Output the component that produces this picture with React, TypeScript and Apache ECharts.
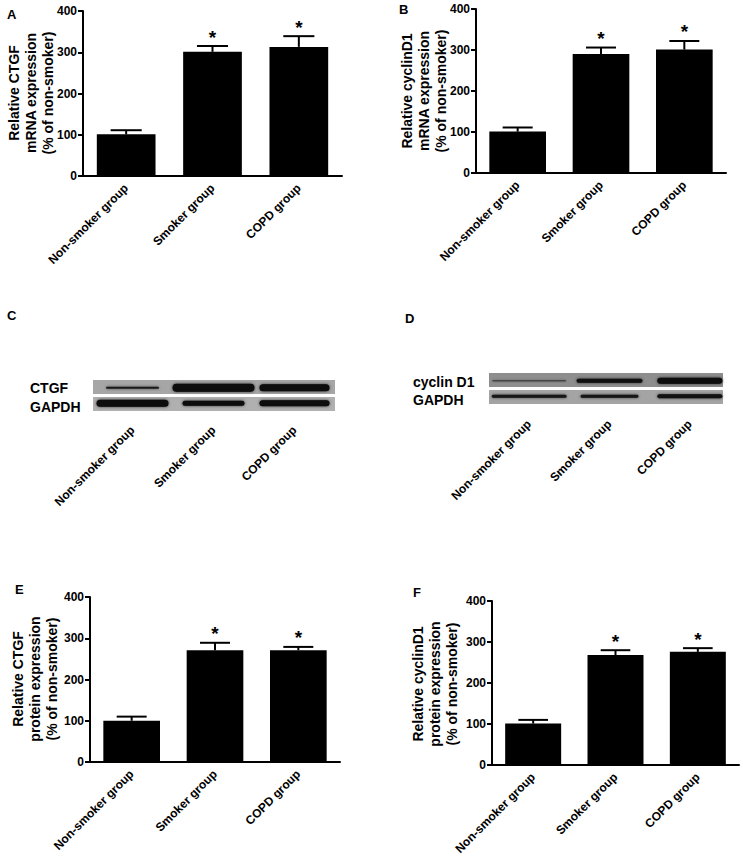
import React, { useEffect, useRef } from "react";
import * as echarts from "echarts";

const FONT = "Liberation Sans";

// Categories
const CATS = ["Non-smoker group", "Smoker group", "COPD group"];
const SIG = ["", "*", "*"];

// Panel A: CTGF mRNA
const A_MEAN = [101, 301, 313];
const A_ERR = [10, 14, 26];
// Panel B: cyclinD1 mRNA
const B_MEAN = [101, 290, 301];
const B_ERR = [10, 16, 21];
// Panel E: CTGF protein
const E_MEAN = [100, 271, 271];
const E_ERR = [10, 18, 8];
// Panel F: cyclinD1 protein
const F_MEAN = [101, 268, 276];
const F_ERR = [9, 12, 9];

const Y_MIN = 0;
const Y_MAX = 400;
const Y_STEP = 100;

// Western blot bands (thickness, length, darkness) per lane
const C_CTGF_THICK = [2, 8, 7];
const C_CTGF_LEN = [53, 82, 70];
const C_CTGF_DARK = [0.8, 1, 1];
const C_GAPDH_THICK = [7, 5, 6];
const C_GAPDH_LEN = [72, 62, 70];
const C_GAPDH_DARK = [1, 1, 1];

const D_CYC_THICK = [1.5, 4, 6];
const D_CYC_LEN = [74, 66, 65];
const D_CYC_DARK = [0.45, 0.95, 1];
const D_GAPDH_THICK = [3, 3, 4];
const D_GAPDH_LEN = [75, 58, 65];
const D_GAPDH_DARK = [0.9, 0.9, 0.95];

function errRender(params: any, api: any) {
  const i = api.value(0);
  const m = api.value(1);
  const e = api.value(2);
  const top = api.coord([i, m + e]);
  const base = api.coord([i, m]);
  const band = api.size([1, 0])[0];
  const cw = band * 0.36;
  const children: any[] = [
    { type: "line", shape: { x1: top[0], y1: base[1], x2: top[0], y2: top[1] }, style: { stroke: "#000", lineWidth: 2 } },
    { type: "line", shape: { x1: top[0] - cw / 2, y1: top[1], x2: top[0] + cw / 2, y2: top[1] }, style: { stroke: "#000", lineWidth: 2 } },
  ];
  const s = SIG[params.dataIndex];
  if (s) {
    children.push({
      type: "text",
      x: top[0],
      y: top[1] - 9,
      style: { text: s, fill: "#000", fontFamily: FONT, fontWeight: "bold", fontSize: 19, align: "center", verticalAlign: "middle" },
    });
  }
  return { type: "group", children };
}

function bandRender(params: any, api: any) {
  const p = api.coord([api.value(0), api.value(1)]);
  const th = api.value(2);
  const len = api.value(3);
  const dark = api.value(4);
  return {
    type: "rect",
    shape: { x: p[0] - len / 2, y: p[1] - th / 2, width: len, height: th, r: th / 2 },
    style: { fill: `rgba(8,8,8,${dark})`, shadowBlur: 3, shadowColor: "rgba(0,0,0,0.7)" },
  };
}

function bandData(row: number, thick: number[], len: number[], dark: number[]) {
  return thick.map((t, i) => [i, row, t, len[i], dark[i]]);
}

const axisLabelStyle = { color: "#000", fontWeight: "bold" as const, fontSize: 12, fontFamily: FONT };

function chartX(gi: number) {
  return {
    type: "category",
    gridIndex: gi,
    data: CATS,
    axisLine: { lineStyle: { color: "#000", width: 2 } },
    axisTick: { alignWithLabel: true, length: 6, lineStyle: { color: "#000", width: 2 } },
    axisLabel: { ...axisLabelStyle, rotate: 45, interval: 0, margin: 10 },
  };
}
function chartY(gi: number) {
  return {
    type: "value",
    gridIndex: gi,
    min: Y_MIN,
    max: Y_MAX,
    interval: Y_STEP,
    splitLine: { show: false },
    axisLine: { show: true, lineStyle: { color: "#000", width: 2 } },
    axisTick: { show: true, length: 5, lineStyle: { color: "#000", width: 2 } },
    axisLabel: { ...axisLabelStyle, margin: 6 },
  };
}
function blotX(gi: number, margin: number) {
  return {
    type: "category",
    gridIndex: gi,
    data: CATS,
    axisLine: { show: false },
    axisTick: { show: false },
    axisLabel: { ...axisLabelStyle, rotate: 45, interval: 0, margin },
  };
}
function blotY(gi: number) {
  return { type: "value", gridIndex: gi, min: 0, max: 2, show: false, splitLine: { show: false } };
}

function barSeries(gi: number, mean: number[], err: number[]) {
  return [
    { type: "bar", xAxisIndex: gi, yAxisIndex: gi, data: mean, barWidth: "68%", itemStyle: { color: "#000" } },
    {
      type: "custom",
      xAxisIndex: gi,
      yAxisIndex: gi,
      data: mean.map((m, i) => [i, m, err[i]]),
      renderItem: errRender,
      z: 5,
    },
  ];
}

function txtStyle(text: string, size: number, align: string) {
  return { text, fill: "#000", fontFamily: FONT, fontWeight: "bold", fontSize: size, align, verticalAlign: "middle" };
}
function titleText(x: number, y: number, text: string) {
  return {
    type: "text",
    x,
    y,
    rotation: Math.PI / 2,
    style: { ...txtStyle(text, 14, "center"), lineHeight: 17 },
  };
}
function letter(x: number, y: number, text: string) {
  return { type: "text", x, y, style: txtStyle(text, 13, "left") };
}
function plainText(x: number, y: number, text: string) {
  return { type: "text", x, y, style: txtStyle(text, 14, "left") };
}
function strip(x: number, y: number, w: number, h: number, fill: string) {
  return { type: "rect", z: 0, shape: { x, y, width: w, height: h }, style: { fill } };
}

export default function App() {
  const ref = useRef<HTMLDivElement>(null);
  useEffect(() => {
    if (!ref.current) return;
    const chart = echarts.init(ref.current, undefined, { renderer: "svg" });
    chart.setOption({
      animation: false,
      backgroundColor: "#fff",
      textStyle: { fontFamily: FONT },
      grid: [
        { left: 83, top: 11, width: 259, height: 165 },
        { left: 476, top: 9, width: 250, height: 164 },
        { left: 90, top: 597, width: 250, height: 165 },
        { left: 492, top: 601, width: 247, height: 164 },
        { left: 92, top: 380, width: 243, height: 31 },
        { left: 489, top: 373, width: 241, height: 31 },
      ],
      xAxis: [chartX(0), chartX(1), chartX(2), chartX(3), blotX(4, 17), blotX(5, 18)],
      yAxis: [chartY(0), chartY(1), chartY(2), chartY(3), blotY(4), blotY(5)],
      series: [
        ...barSeries(0, A_MEAN, A_ERR),
        ...barSeries(1, B_MEAN, B_ERR),
        ...barSeries(2, E_MEAN, E_ERR),
        ...barSeries(3, F_MEAN, F_ERR),
        {
          type: "custom",
          xAxisIndex: 4,
          yAxisIndex: 4,
          z: 5,
          renderItem: bandRender,
          data: [
            ...bandData(1.5, C_CTGF_THICK, C_CTGF_LEN, C_CTGF_DARK),
            ...bandData(0.5, C_GAPDH_THICK, C_GAPDH_LEN, C_GAPDH_DARK),
          ],
        },
        {
          type: "custom",
          xAxisIndex: 5,
          yAxisIndex: 5,
          z: 5,
          renderItem: bandRender,
          data: [
            ...bandData(1.5, D_CYC_THICK, D_CYC_LEN, D_CYC_DARK),
            ...bandData(0.5, D_GAPDH_THICK, D_GAPDH_LEN, D_GAPDH_DARK),
          ],
        },
      ],
      graphic: [
        titleText(31, 93, "Relative CTGF\nmRNA expression\n(% of non-smoker)"),
        titleText(424, 91, "Relative cyclinD1\nmRNA expression\n(% of non-smoker)"),
        titleText(35, 679, "Relative CTGF\nprotein expression\n(% of non-smoker)"),
        titleText(435, 684, "Relative cyclinD1\nprotein expression\n(% of non-smoker)"),
        letter(7, 14, "A"),
        letter(399, 9, "B"),
        letter(7, 315, "C"),
        letter(405, 318, "D"),
        letter(15, 589, "E"),
        letter(413, 592, "F"),
        strip(93, 380, 242, 14, "#a6a6a6"),
        strip(93, 397, 242, 14, "#b0b0b0"),
        strip(489, 373, 234, 14, "#8e8e8e"),
        strip(489, 390, 234, 14, "#a4a4a4"),
        plainText(30, 388, "CTGF"),
        plainText(30, 407, "GAPDH"),
        plainText(413, 382, "cyclin D1"),
        plainText(413, 400, "GAPDH"),
      ],
    });
    return () => chart.dispose();
  }, []);
  return <div ref={ref} style={{ position: "absolute", left: 0, top: 0, width: 743, height: 865 }} />;
}
